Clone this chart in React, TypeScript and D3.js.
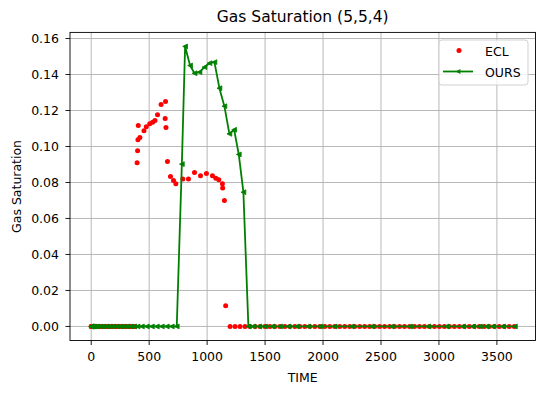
import React from 'react';
import * as d3 from 'd3';

// ECL report times and gas saturation
const eclTime = [
    0, 1, 3, 7, 14, 21, 31, 45, 59, 75, 90, 105, 120, 135, 151, 166, 181, 196, 212, 227,
    243, 258, 273, 288, 304, 319, 334, 350, 365, 380,
    396, 400, 403, 406, 420, 455, 475, 505, 530, 550, 572, 603, 638, 641, 645, 658, 684,
    710, 730, 790, 839, 891, 943, 994, 1046, 1075, 1101, 1132, 1134, 1149, 1160,
    1198, 1241, 1284, 1327, 1370, 1413, 1456, 1499, 1542, 1585, 1628, 1671, 1714, 1757,
    1800, 1843, 1886, 1929, 1972, 2015, 2058, 2101, 2144, 2187, 2230, 2273, 2316, 2359,
    2402, 2445, 2488, 2531, 2574, 2617, 2660, 2703, 2746, 2789, 2832, 2875, 2918, 2961,
    3004, 3047, 3090, 3133, 3176, 3219, 3262, 3305, 3348, 3391, 3434, 3477, 3520, 3563,
    3606, 3650,
];
const eclSgas = [
    0, 0, 0, 0, 0, 0, 0, 0, 0, 0, 0, 0, 0, 0, 0, 0, 0, 0, 0, 0,
    0, 0, 0, 0, 0, 0, 0, 0, 0, 0,
    0.091, 0.0976, 0.1037, 0.1117, 0.105, 0.1087, 0.111, 0.1126, 0.1135, 0.1144, 0.1176, 0.1233, 0.1156, 0.125, 0.1106, 0.0917, 0.0833,
    0.0811, 0.0793, 0.082, 0.082, 0.0856, 0.0837, 0.085, 0.0837, 0.0824, 0.0815, 0.0793, 0.077, 0.07, 0.0115,
    0, 0, 0, 0, 0, 0, 0, 0, 0, 0, 0, 0, 0, 0,
    0, 0, 0, 0, 0, 0, 0, 0, 0, 0, 0, 0, 0, 0,
    0, 0, 0, 0, 0, 0, 0, 0, 0, 0, 0, 0, 0, 0,
    0, 0, 0, 0, 0, 0, 0, 0, 0, 0, 0, 0, 0, 0,
    0, 0,
];

// our model
const oursTime = [
    0, 1, 3, 7, 15, 30, 50, 75, 100, 130, 160, 190, 220, 250, 280, 310, 340, 370, 400,
    437, 480, 523, 566, 609, 652, 695, 738,
    782, 810, 853, 891, 934, 977, 1020, 1063, 1106, 1149, 1192, 1233, 1273, 1313,
    1356, 1400, 1450, 1500, 1560, 1629, 1700, 1773, 1870, 1974, 2100, 2247, 2420, 2592,
    2750, 2908, 3066, 3207, 3293, 3353, 3410, 3466, 3552, 3655,
];
const oursSgas = [
    0, 0, 0, 0, 0, 0, 0, 0, 0, 0, 0, 0, 0, 0, 0, 0, 0, 0, 0,
    0, 0, 0, 0, 0, 0, 0, 0,
    0.0902, 0.1556, 0.145, 0.1407, 0.1413, 0.1441, 0.1463, 0.1469, 0.1324, 0.1224, 0.107, 0.1093, 0.0956, 0.0746,
    0, 0, 0, 0, 0, 0, 0, 0, 0, 0, 0, 0, 0, 0,
    0, 0, 0, 0, 0, 0, 0, 0, 0, 0,
];

const xTicks = [0, 500, 1000, 1500, 2000, 2500, 3000, 3500];
const yTicks = [0, 0.02, 0.04, 0.06, 0.08, 0.1, 0.12, 0.14, 0.16];

const W = 545;
const H = 393;
const left = 70, right = 535.5, top = 32.4, bottom = 340.5;
const font = 'DejaVu Sans, sans-serif';
const grid = '#b0b0b0';
const fs = 12.5;

export default function App() {
    const x = d3.scaleLinear().domain([-183, 3833]).range([left, right]);
    const y = d3.scaleLinear().domain([-0.0078, 0.1634]).range([bottom, top]);

    const ecl = eclTime.map((t, i) => ({ t, v: eclSgas[i] }));
    const ours = oursTime.map((t, i) => ({ t, v: oursSgas[i] }));

    const line = d3.line<{ t: number; v: number }>()
        .x(d => x(d.t))
        .y(d => y(d.v));

    const tri = (cx: number, cy: number, s: number) =>
        `M${cx - s},${cy} L${cx + s},${cy - s} L${cx + s},${cy + s} Z`;

    return (
        <div style={{ margin: -8, width: W, height: H }}>
            <svg width={W} height={H} style={{ display: 'block', background: '#fff' }} fontFamily={font}>
                {/* grid */}
                {xTicks.map(t => (
                    <line key={'gx' + t} x1={x(t)} x2={x(t)} y1={top} y2={bottom} stroke={grid} strokeWidth={0.9} />
                ))}
                {yTicks.map(t => (
                    <line key={'gy' + t} x1={left} x2={right} y1={y(t)} y2={y(t)} stroke={grid} strokeWidth={0.9} />
                ))}

                {/* ECL points */}
                {ecl.map((d, i) => (
                    <circle key={'e' + i} cx={x(d.t)} cy={y(d.v)} r={2.5} fill="#ff0000" />
                ))}

                {/* OURS line */}
                <path d={line(ours) || ''} fill="none" stroke="#008000" strokeWidth={1.8} strokeLinejoin="round" />
                {ours.map((d, i) => (
                    <path key={'o' + i} d={tri(x(d.t), y(d.v), 2.4)} fill="#008000" stroke="#008000" strokeWidth={0.8} />
                ))}

                {/* spines */}
                <rect x={left} y={top} width={right - left} height={bottom - top} fill="none" stroke="#000" strokeWidth={0.9} />

                {/* x axis */}
                {xTicks.map(t => (
                    <g key={'xt' + t} transform={`translate(${x(t)},${bottom})`}>
                        <line y2={4.5} stroke="#000" strokeWidth={0.9} />
                        <text y={20.5} textAnchor="middle" fontSize={fs} fill="#000">{t}</text>
                    </g>
                ))}
                <text x={(left + right) / 2} y={381.5} textAnchor="middle" fontSize={fs}>TIME</text>

                {/* y axis */}
                {yTicks.map(t => (
                    <g key={'yt' + t} transform={`translate(${left},${y(t)})`}>
                        <line x2={-4.5} stroke="#000" strokeWidth={0.9} />
                        <text x={-11} dy="0.36em" textAnchor="end" fontSize={fs} fill="#000">{t.toFixed(2)}</text>
                    </g>
                ))}
                <text transform={`translate(20.5,${(top + bottom) / 2}) rotate(-90)`} textAnchor="middle" fontSize={fs}>Gas Saturation</text>

                {/* title */}
                <text x={(left + right) / 2} y={22} textAnchor="middle" fontSize={15.5}>Gas Saturation (5,5,4)</text>

                {/* legend */}
                <g transform="translate(439,40)">
                    <rect width={89} height={45} rx={3} fill="#fff" fillOpacity={0.8} stroke="#cccccc" strokeWidth={0.9} />
                    <circle cx={20} cy={10.5} r={2.5} fill="#ff0000" />
                    <text x={46} y={16} fontSize={fs}>ECL</text>
                    <line x1={4} x2={34} y1={31.5} y2={31.5} stroke="#008000" strokeWidth={1.8} />
                    <path d={tri(19, 31.5, 2.4)} fill="#008000" />
                    <text x={46} y={36.5} fontSize={fs}>OURS</text>
                </g>
            </svg>
        </div>
    );
}
